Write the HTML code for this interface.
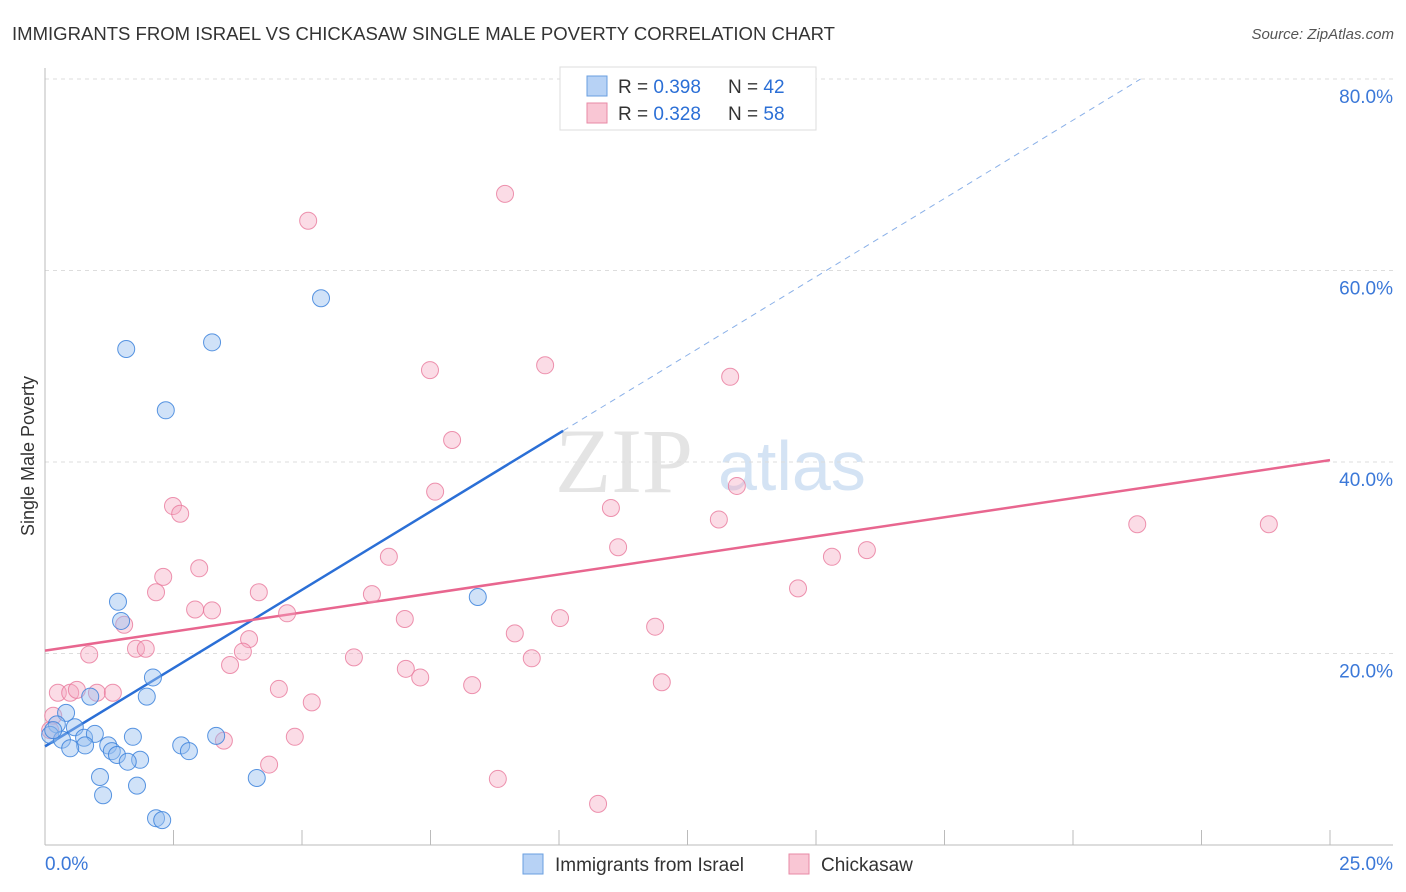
<!DOCTYPE html>
<html><head><meta charset="utf-8"><style>
body{margin:0;background:#fff;font-family:"Liberation Sans",sans-serif;}
svg{display:block}
</style></head><body>
<svg id="chart" width="1406" height="892" xmlns="http://www.w3.org/2000/svg">
<text x="12" y="40" font-size="18" fill="#333" textLength="823" lengthAdjust="spacingAndGlyphs">IMMIGRANTS FROM ISRAEL VS CHICKASAW SINGLE MALE POVERTY CORRELATION CHART</text>
<text x="1394" y="39" font-size="15" fill="#555" text-anchor="end" font-style="italic">Source: ZipAtlas.com</text>
<g><text x="555" y="492" font-size="92" fill="#e4e4e4" font-family="Liberation Serif,serif">ZIP</text><text x="718" y="490" font-size="70" fill="#d4e3f4">atlas</text></g>
<g id="grid"></g>
<g id="axes"></g>
<text x="34" y="456" font-size="18" fill="#333" text-anchor="middle" transform="rotate(-90 34 456)">Single Male Poverty</text>
<g id="trends"></g>
<g id="points"></g>
<g>
<rect x="560" y="67" width="256" height="63" fill="#fff" stroke="#ddd"/>
<rect x="587" y="76" width="20" height="20" fill="#b7d2f5" stroke="#6a9fe0"/>
<rect x="587" y="103" width="20" height="20" fill="#f9c6d4" stroke="#e88aa6"/>
<text x="618" y="93" font-size="19" fill="#333">R = <tspan fill="#2b6fd6">0.398</tspan><tspan x="728">N = </tspan><tspan fill="#2b6fd6">42</tspan></text>
<text x="618" y="120" font-size="19" fill="#333">R = <tspan fill="#2b6fd6">0.328</tspan><tspan x="728">N = </tspan><tspan fill="#2b6fd6">58</tspan></text>
</g>
<g>
<rect x="523" y="854" width="20" height="20" fill="#b7d2f5" stroke="#6a9fe0"/>
<text x="555" y="871" font-size="19" fill="#333">Immigrants from Israel</text>
<rect x="789" y="854" width="20" height="20" fill="#f9c6d4" stroke="#e88aa6"/>
<text x="821" y="871" font-size="19" fill="#333">Chickasaw</text>
</g>
</svg>
<script>
const yTicks=[20,40,60,80];
const yTickLabels=["20.0%","40.0%","60.0%","80.0%"];
const xTickLabels=["0.0%","25.0%"];
const israelX=[1.58,3.25,5.37,2.35,8.42,1.42,1.48,2.10,1.98,0.88,0.41,0.23,0.58,0.10,0.33,0.76,0.97,1.23,0.78,0.49,1.30,1.40,1.71,1.85,1.61,2.65,2.80,3.33,1.07,1.13,1.79,4.12,2.16,2.28,0.16];
const israelY=[51.8,52.5,57.1,45.4,25.9,25.4,23.4,17.5,15.5,15.5,13.8,12.6,12.3,11.5,11.0,11.2,11.6,10.4,10.4,10.1,9.8,9.4,11.3,8.9,8.7,10.4,9.8,11.4,7.1,5.2,6.2,7.0,2.8,2.6,12.0];
const chickX=[8.95,5.12,9.73,7.49,13.33,7.92,7.59,13.46,11.01,13.11,2.49,2.63,21.25,23.81,11.15,15.99,15.31,6.69,3.00,2.30,2.16,14.65,4.16,6.36,2.92,3.25,4.71,1.54,7.00,10.02,9.14,11.87,3.97,1.77,1.96,0.86,3.85,6.01,9.47,3.60,7.02,7.30,12.00,8.31,4.55,5.19,0.25,0.49,0.62,1.01,1.32,4.86,3.48,4.36,8.81,10.76,0.16,0.10];
const chickY=[68.0,65.2,50.1,49.6,48.9,42.3,36.9,37.5,35.2,34.0,35.4,34.6,33.5,33.5,31.1,30.8,30.1,30.1,28.9,28.0,26.4,26.8,26.4,26.2,24.6,24.5,24.2,23.0,23.6,23.7,22.1,22.8,21.5,20.5,20.5,19.9,20.2,19.6,19.5,18.8,18.4,17.5,17.0,16.7,16.3,14.9,15.9,15.9,16.2,15.9,15.9,11.3,10.9,8.4,6.9,4.3,13.5,12.0];
const israelTrend=[10.3,3.27];
const chickTrend=[20.3,0.796];
const X=v=>45+v/25*1285, Y=v=>845-v/20*191.5;
const NS="http://www.w3.org/2000/svg";
function mk(p,t,a){const e=document.createElementNS(NS,t);for(const k in a)e.setAttribute(k,a[k]);p.appendChild(e);return e;}
const grid=document.getElementById('grid'),axes=document.getElementById('axes');
yTicks.forEach((v,i)=>{
 const l=mk(grid,'line',{x1:45,x2:1393,y1:Y(v),y2:Y(v),stroke:'#ddd','stroke-dasharray':'4,4'});
 
 
 const t=mk(grid,'text',{x:1393,y:Y(v)+24,'font-size':19,fill:'#3b78d8','text-anchor':'end'});
 t.textContent=yTickLabels[i];
 
 
});
mk(axes,'line',{x1:45,x2:45,y1:68,y2:845,stroke:'#bbb'});
mk(axes,'line',{x1:45,x2:1393,y1:845,y2:845,stroke:'#bbb'});
for(let i=0;i<=10;i++){const tk=mk(axes,'line',{x1:X(i*2.5),x2:X(i*2.5),y1:830,y2:845,stroke:'#bbb'});
 
 }
[[0,'start',45],[1,'end',1393]].forEach(([i,a,x])=>{const t=mk(axes,'text',{x:x,y:870,'font-size':19,fill:'#3b78d8','text-anchor':a});t.textContent=xTickLabels[i];
 
 });
const tr=document.getElementById('trends');
const xs=10.08, xe=(80-israelTrend[0])/israelTrend[1];
const b1=mk(tr,'line',{x1:X(0),y1:Y(israelTrend[0]),x2:X(xs),y2:Y(israelTrend[0]+israelTrend[1]*xs),stroke:'#2b6fd6','stroke-width':2.5});


const b2=mk(tr,'line',{x1:X(xs),y1:Y(israelTrend[0]+israelTrend[1]*xs),x2:X(xe),y2:Y(80),stroke:'#8ab0e8','stroke-width':1,'stroke-dasharray':'6,5'});


const p1=mk(tr,'line',{x1:X(0),y1:Y(chickTrend[0]),x2:X(25),y2:Y(chickTrend[0]+chickTrend[1]*25),stroke:'#e8668f','stroke-width':2.5});


const pts=document.getElementById('points');
chickX.forEach((x,i)=>{const c=mk(pts,'circle',{cx:X(x),cy:Y(chickY[i]),r:8.5,fill:'rgba(246,168,192,0.4)',stroke:'rgba(232,120,155,0.8)','stroke-width':1});
 
 });
israelX.forEach((x,i)=>{const c=mk(pts,'circle',{cx:X(x),cy:Y(israelY[i]),r:8.5,fill:'rgba(150,190,240,0.45)',stroke:'rgba(60,130,220,0.85)','stroke-width':1});
 
 });
</script>
</body></html>
